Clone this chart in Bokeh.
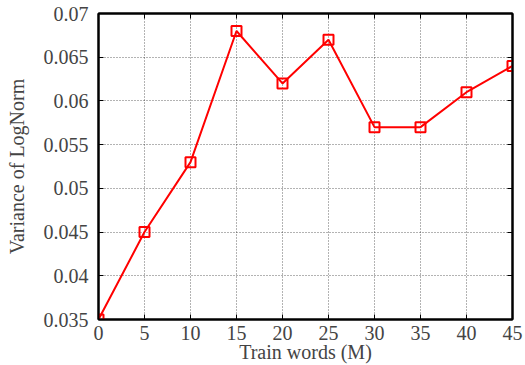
from bokeh.plotting import figure
from bokeh.models import LinearAxis, FixedTicker, Range1d
from bokeh.embed import file_html
from bokeh.resources import INLINE

train_words = [0, 5, 10, 15, 20, 25, 30, 35, 40, 45]
variance = [0.035, 0.045, 0.053, 0.068, 0.062, 0.067, 0.057, 0.057, 0.061, 0.064]
x_ticks = [0, 5, 10, 15, 20, 25, 30, 35, 40, 45]
y_ticks = [0.035, 0.04, 0.045, 0.05, 0.055, 0.06, 0.065, 0.07]
y_tick_labels = ["0.035", "0.04", "0.045", "0.05", "0.055", "0.06", "0.065", "0.07"]

FONT = "Liberation Serif"

p = figure(width=525, height=365, output_backend="svg", toolbar_location=None,
           x_range=Range1d(0, 45), y_range=Range1d(0.035, 0.07),
           min_border_left=98, min_border_right=13, min_border_top=13, min_border_bottom=45)
p.outline_line_color = "black"
p.outline_line_width = 2
p.background_fill_color = "white"
p.border_fill_color = "white"

for ax in (p.xaxis[0], p.yaxis[0]):
    ax.major_tick_in = 5
    ax.major_tick_out = 0
    ax.minor_tick_in = 0
    ax.minor_tick_out = 0
    ax.axis_line_width = 2
    ax.major_tick_line_width = 1
    ax.major_label_text_font = FONT
    ax.major_label_text_font_size = "20px"
    ax.axis_label_text_font = FONT
    ax.axis_label_text_font_size = "20px"
    ax.axis_label_text_font_style = "normal"

p.xaxis[0].ticker = FixedTicker(ticks=x_ticks)
p.yaxis[0].ticker = FixedTicker(ticks=y_ticks)
p.yaxis[0].major_label_overrides = {t: l for t, l in zip(y_ticks, y_tick_labels)}
p.xaxis[0].axis_label = "Train words (M)"
p.yaxis[0].axis_label = "Variance of LogNorm"
p.xaxis[0].major_label_standoff = 6
p.xaxis[0].axis_label_standoff = -2
p.yaxis[0].major_label_standoff = 10
p.yaxis[0].axis_label_standoff = 13

top = LinearAxis(ticker=FixedTicker(ticks=x_ticks),
                 major_label_overrides={t: "" for t in x_ticks},
                 major_tick_in=5, major_tick_out=0, minor_tick_in=0, minor_tick_out=0,
                 axis_line_width=2, major_label_standoff=0)
right = LinearAxis(ticker=FixedTicker(ticks=y_ticks),
                   major_label_overrides={t: "" for t in y_ticks},
                   major_tick_in=5, major_tick_out=0, minor_tick_in=0, minor_tick_out=0,
                   axis_line_width=2, major_label_standoff=0)
p.add_layout(top, "above")
p.add_layout(right, "right")

p.xgrid.ticker = FixedTicker(ticks=x_ticks)
p.ygrid.ticker = FixedTicker(ticks=y_ticks)
for g in (p.xgrid, p.ygrid):
    g.grid_line_color = "black"
    g.grid_line_alpha = 0.6
    g.grid_line_dash = "1 2"
    g.grid_line_width = 1

p.line(train_words, variance, line_color="red", line_width=2)
p.scatter(train_words, variance, marker="square", size=10, fill_color=None,
          line_color="red", line_width=2)

open("out.html", "w").write(file_html(p, INLINE))
